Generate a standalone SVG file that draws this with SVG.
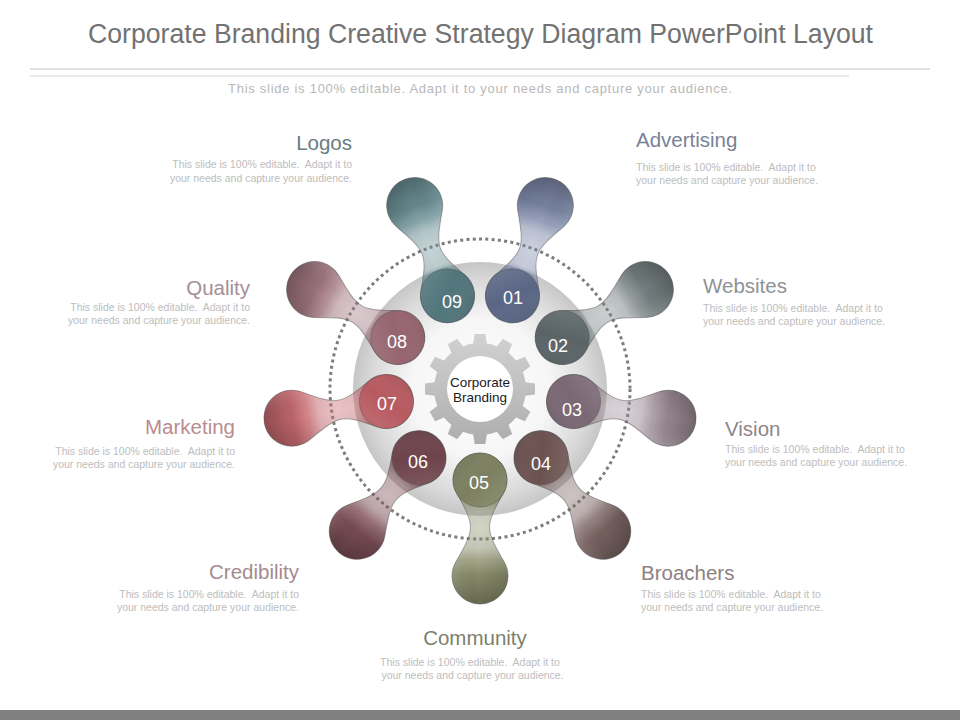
<svg xmlns="http://www.w3.org/2000/svg" width="960" height="720" viewBox="0 0 960 720">
<style>
.h{font-family:"Liberation Sans",Arial,sans-serif;font-size:20.5px}
.b{font-family:"Liberation Sans",Arial,sans-serif;font-size:10.5px;fill:#bdbdbd}
.num{font-family:"Liberation Sans",Arial,sans-serif;font-size:18px;fill:#fff;text-anchor:middle}
.edge{fill:none;stroke:#555;stroke-opacity:.5;stroke-width:1}
.ball{stroke:#555;stroke-opacity:.45;stroke-width:1}
.e{text-anchor:end}
.m{text-anchor:middle}
</style>
<defs>
  <path id="bone" d="M23.38,-13.5 C4.38,-46.4 5.25,-49.1 24.25,-82 A28,28 0 1 0 -24.25,-82 C-5.25,-49.1 -4.38,-46.4 -23.38,-13.5 A27,27 0 1 0 23.38,-13.5 Z"/>
  <linearGradient id="fadeG" gradientUnits="userSpaceOnUse" x1="0" y1="-124" x2="0" y2="27">
    <stop offset="0" stop-color="#fff" stop-opacity="1"/>
    <stop offset=".19" stop-color="#fff" stop-opacity="1"/>
    <stop offset=".29" stop-color="#fff" stop-opacity=".82"/>
    <stop offset=".37" stop-color="#fff" stop-opacity=".52"/>
    <stop offset=".49" stop-color="#fff" stop-opacity=".4"/>
    <stop offset=".61" stop-color="#fff" stop-opacity=".45"/>
    <stop offset=".68" stop-color="#fff" stop-opacity=".8"/>
    <stop offset=".72" stop-color="#fff" stop-opacity="1"/>
    <stop offset="1" stop-color="#fff" stop-opacity="1"/>
  </linearGradient>
  <mask id="fade" maskUnits="userSpaceOnUse" x="-40" y="-135" width="80" height="175">
    <rect x="-40" y="-135" width="80" height="175" fill="url(#fadeG)"/>
  </mask>
  <linearGradient id="shade" gradientUnits="userSpaceOnUse" x1="0" y1="-124" x2="0" y2="-60">
    <stop offset="0" stop-color="#000" stop-opacity=".28"/>
    <stop offset=".35" stop-color="#000" stop-opacity=".1"/>
    <stop offset=".65" stop-color="#000" stop-opacity="0"/>
    <stop offset="1" stop-color="#000" stop-opacity="0"/>
  </linearGradient>
  <linearGradient id="side" gradientUnits="userSpaceOnUse" x1="-28" y1="0" x2="28" y2="0">
    <stop offset="0" stop-color="#000" stop-opacity=".12"/>
    <stop offset=".5" stop-color="#000" stop-opacity="0"/>
    <stop offset="1" stop-color="#fff" stop-opacity=".1"/>
  </linearGradient>
  <linearGradient id="ballG" x1="0" y1="0" x2="1" y2="1">
    <stop offset="0" stop-color="#fff" stop-opacity=".14"/>
    <stop offset=".5" stop-color="#fff" stop-opacity="0"/>
    <stop offset="1" stop-color="#000" stop-opacity=".14"/>
  </linearGradient>
  <radialGradient id="diskG" cx="50%" cy="50%" r="50%">
    <stop offset="0" stop-color="#ffffff"/>
    <stop offset=".55" stop-color="#f6f6f6"/>
    <stop offset=".85" stop-color="#dadada"/>
    <stop offset="1" stop-color="#c6c6c6"/>
  </radialGradient>
  <linearGradient id="gearG" x1="0" y1="0" x2="0" y2="1">
    <stop offset="0" stop-color="#d2d2d2"/>
    <stop offset="1" stop-color="#adadad"/>
  </linearGradient>
  <polygon id="tooth" points="-5.4,-55 5.4,-55 7,-44 -7,-44"/>
  <clipPath id="gearClip">
    <circle r="46"/>
    <use href="#tooth"/>
    <use href="#tooth" transform="rotate(30)"/>
    <use href="#tooth" transform="rotate(60)"/>
    <use href="#tooth" transform="rotate(90)"/>
    <use href="#tooth" transform="rotate(120)"/>
    <use href="#tooth" transform="rotate(150)"/>
    <use href="#tooth" transform="rotate(180)"/>
    <use href="#tooth" transform="rotate(210)"/>
    <use href="#tooth" transform="rotate(240)"/>
    <use href="#tooth" transform="rotate(270)"/>
    <use href="#tooth" transform="rotate(300)"/>
    <use href="#tooth" transform="rotate(330)"/>
  </clipPath>
</defs>

<rect width="960" height="720" fill="#fff"/>

<g id="header">
  <text x="480.5" y="43" font-family="Liberation Sans, Arial, sans-serif" font-size="27" fill="#727272" text-anchor="middle" textLength="785" lengthAdjust="spacingAndGlyphs">Corporate Branding Creative Strategy Diagram PowerPoint Layout</text>
  <line x1="30" y1="69" x2="930" y2="69" stroke="#c4c4c4" stroke-width="1"/>
  <line x1="30" y1="76" x2="849" y2="76" stroke="#d4d4d4" stroke-width="1"/>
  <text x="480" y="93" font-family="Liberation Sans, Arial, sans-serif" font-size="13" fill="#b8b8b8" text-anchor="middle" textLength="504">This slide is 100% editable. Adapt it to your needs and capture your audience.</text>
</g>

<g id="hub-ring">
  <circle cx="480" cy="389" r="127" fill="url(#diskG)"/>
  <circle cx="480" cy="389" r="150" fill="none" stroke="#7d7d7d" stroke-width="3" stroke-dasharray="3 3.3"/>
</g>

<g id="hub" transform="translate(480 389)">
  <circle r="56" fill="url(#gearG)" clip-path="url(#gearClip)"/>
  <circle r="33" fill="#fff"/>
  <text x="0" y="-2" class="m" font-family="Liberation Sans, Arial, sans-serif" font-size="13.5" fill="#1a1a1a">Corporate</text>
  <text x="0" y="13" class="m" font-family="Liberation Sans, Arial, sans-serif" font-size="13.5" fill="#1a1a1a">Branding</text>
</g>

<g id="node-01">
  <g transform="translate(480 385) rotate(20) translate(0 -95)">
    <use href="#bone" fill="#7f8bab" mask="url(#fade)"/>
    <use href="#bone" fill="url(#shade)"/>
    <use href="#bone" fill="url(#side)" mask="url(#fade)"/>
    <use href="#bone" class="edge"/>
    <circle r="27" fill="#5a6685"/>
    <circle r="27" fill="url(#ballG)" class="ball"/>
  </g>
  <text class="num" x="513" y="303.5">01</text>
  <text class="h" x="636" y="147" fill="#7a8296">Advertising</text>
  <text class="b" x="636" y="170.5">This slide is 100% editable.&#160; Adapt it to</text>
  <text class="b" x="636" y="183.5">your needs and capture your audience.</text>
</g>

<g id="node-02">
  <g transform="translate(480 385) rotate(60) translate(0 -95)">
    <use href="#bone" fill="#7b8587" mask="url(#fade)"/>
    <use href="#bone" fill="url(#shade)"/>
    <use href="#bone" fill="url(#side)" mask="url(#fade)"/>
    <use href="#bone" class="edge"/>
    <circle r="27" fill="#5a6466"/>
    <circle r="27" fill="url(#ballG)" class="ball"/>
  </g>
  <text class="num" x="558" y="351.5">02</text>
  <text class="h" x="703" y="293" fill="#8e9294">Websites</text>
  <text class="b" x="703" y="311.5">This slide is 100% editable.&#160; Adapt it to</text>
  <text class="b" x="703" y="324.5">your needs and capture your audience.</text>
</g>

<g id="node-03">
  <g transform="translate(480 385) rotate(100) translate(0 -95)">
    <use href="#bone" fill="#9f8e98" mask="url(#fade)"/>
    <use href="#bone" fill="url(#shade)"/>
    <use href="#bone" fill="url(#side)" mask="url(#fade)"/>
    <use href="#bone" class="edge"/>
    <circle r="27" fill="#7a6874"/>
    <circle r="27" fill="url(#ballG)" class="ball"/>
  </g>
  <text class="num" x="572" y="416">03</text>
  <text class="h" x="725" y="436" fill="#8e858b">Vision</text>
  <text class="b" x="725" y="452.5">This slide is 100% editable.&#160; Adapt it to</text>
  <text class="b" x="725" y="465.5">your needs and capture your audience.</text>
</g>

<g id="node-04">
  <g transform="translate(480 385) rotate(140) translate(0 -95)">
    <use href="#bone" fill="#7e6866" mask="url(#fade)"/>
    <use href="#bone" fill="url(#shade)"/>
    <use href="#bone" fill="url(#side)" mask="url(#fade)"/>
    <use href="#bone" class="edge"/>
    <circle r="27" fill="#6b5250"/>
    <circle r="27" fill="url(#ballG)" class="ball"/>
  </g>
  <text class="num" x="541" y="469.5">04</text>
  <text class="h" x="641" y="580" fill="#8d8180">Broachers</text>
  <text class="b" x="641" y="597.5">This slide is 100% editable.&#160; Adapt it to</text>
  <text class="b" x="641" y="610.5">your needs and capture your audience.</text>
</g>

<g id="node-05">
  <g transform="translate(480 385) rotate(180) translate(0 -95)">
    <use href="#bone" fill="#8e916f" mask="url(#fade)"/>
    <use href="#bone" fill="url(#shade)"/>
    <use href="#bone" fill="url(#side)" mask="url(#fade)"/>
    <use href="#bone" class="edge"/>
    <circle r="27" fill="#7c8060"/>
    <circle r="27" fill="url(#ballG)" class="ball"/>
  </g>
  <text class="num" x="479" y="488.5">05</text>
  <text class="h m" x="475" y="645" fill="#7d7f6a">Community</text>
  <text class="b m" x="470" y="665.5">This slide is 100% editable.&#160; Adapt it to</text>
  <text class="b m" x="472.5" y="678.5">your needs and capture your audience.</text>
</g>

<g id="node-06">
  <g transform="translate(480 385) rotate(220) translate(0 -95)">
    <use href="#bone" fill="#7f5058" mask="url(#fade)"/>
    <use href="#bone" fill="url(#shade)"/>
    <use href="#bone" fill="url(#side)" mask="url(#fade)"/>
    <use href="#bone" class="edge"/>
    <circle r="27" fill="#6e434b"/>
    <circle r="27" fill="url(#ballG)" class="ball"/>
  </g>
  <text class="num" x="418" y="467.5">06</text>
  <text class="h e" x="299" y="579" fill="#a68a8e">Credibility</text>
  <text class="b e" x="299" y="597.5">This slide is 100% editable.&#160; Adapt it to</text>
  <text class="b e" x="299" y="610.5">your needs and capture your audience.</text>
</g>

<g id="node-07">
  <g transform="translate(480 385) rotate(260) translate(0 -95)">
    <use href="#bone" fill="#c86a70" mask="url(#fade)"/>
    <use href="#bone" fill="url(#shade)"/>
    <use href="#bone" fill="url(#side)" mask="url(#fade)"/>
    <use href="#bone" class="edge"/>
    <circle r="27" fill="#b75a60"/>
    <circle r="27" fill="url(#ballG)" class="ball"/>
  </g>
  <text class="num" x="387" y="409.5">07</text>
  <text class="h e" x="235" y="434" fill="#b98b90">Marketing</text>
  <text class="b e" x="235" y="454.5">This slide is 100% editable.&#160; Adapt it to</text>
  <text class="b e" x="235" y="467.5">your needs and capture your audience.</text>
</g>

<g id="node-08">
  <g transform="translate(480 385) rotate(300) translate(0 -95)">
    <use href="#bone" fill="#a37882" mask="url(#fade)"/>
    <use href="#bone" fill="url(#shade)"/>
    <use href="#bone" fill="url(#side)" mask="url(#fade)"/>
    <use href="#bone" class="edge"/>
    <circle r="27" fill="#95646f"/>
    <circle r="27" fill="url(#ballG)" class="ball"/>
  </g>
  <text class="num" x="397" y="347.5">08</text>
  <text class="h e" x="250" y="295" fill="#a48f97">Quality</text>
  <text class="b e" x="250" y="310.5">This slide is 100% editable.&#160; Adapt it to</text>
  <text class="b e" x="250" y="323.5">your needs and capture your audience.</text>
</g>

<g id="node-09">
  <g transform="translate(480 385) rotate(340) translate(0 -95)">
    <use href="#bone" fill="#6c9197" mask="url(#fade)"/>
    <use href="#bone" fill="url(#shade)"/>
    <use href="#bone" fill="url(#side)" mask="url(#fade)"/>
    <use href="#bone" class="edge"/>
    <circle r="27" fill="#50757b"/>
    <circle r="27" fill="url(#ballG)" class="ball"/>
  </g>
  <text class="num" x="452" y="307.5">09</text>
  <text class="h e" x="352" y="150" fill="#6a7c80">Logos</text>
  <text class="b e" x="352" y="167.5">This slide is 100% editable.&#160; Adapt it to</text>
  <text class="b e" x="352" y="181.5">your needs and capture your audience.</text>
</g>

<rect id="footer-bar" x="0" y="710" width="960" height="10" fill="#808080"/>
</svg>
